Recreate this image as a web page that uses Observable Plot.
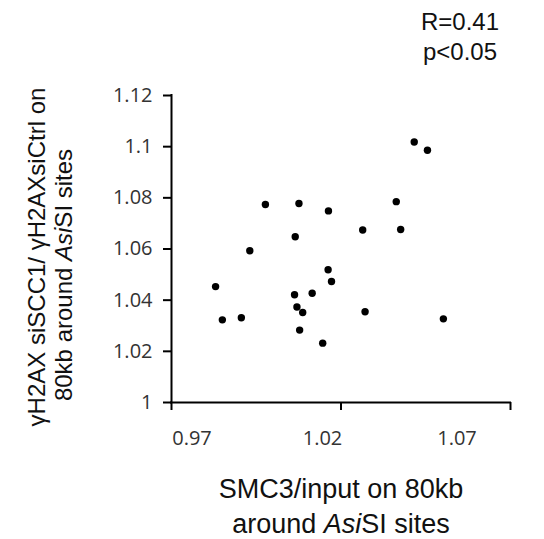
<!DOCTYPE html>
<html>
<head>
<meta charset="utf-8">
<script src="https://cdn.jsdelivr.net/npm/d3@7"></script>
<script src="https://cdn.jsdelivr.net/npm/@observablehq/plot@0.6"></script>
<style>
  html, body { margin: 0; padding: 0; background: #fff; }
  #chart svg { display: block; }
</style>
</head>
<body>
<div id="chart"></div>
<script>
// SMC3/input on 80kb around AsiSI sites (x)
const smc3 = [0.9830, 0.9850, 0.9906, 0.9931, 0.9977, 1.0065, 1.0063, 1.0070, 1.0076, 1.0078, 1.0087, 1.0115,
              1.0146, 1.0163, 1.0162, 1.0172, 1.0264, 1.0271, 1.0363, 1.0376, 1.0416, 1.0455, 1.0502];
// γH2AX siSCC1 / γH2AX siCtrl on 80kb around AsiSI sites (y)
const gh2ax = [1.0453, 1.0323, 1.0331, 1.0593, 1.0774, 1.0648, 1.0421, 1.0373, 1.0778, 1.0283, 1.0352, 1.0427,
               1.0232, 1.0749, 1.0519, 1.0473, 1.0674, 1.0355, 1.0785, 1.0676, 1.1018, 1.0986, 1.0327];

const xTicks = [0.97, 1.02, 1.07];
const xTickLabels = ["0.97", "1.02", "1.07"];
const yTicks = [1, 1.02, 1.04, 1.06, 1.08, 1.1, 1.12];
const yTickLabels = ["1", "1.02", "1.04", "1.06", "1.08", "1.1", "1.12"];
const statsLines = ["R=0.41", "p<0.05"];

const points = smc3.map((x, i) => ({x, y: gh2ax[i]}));

// label offsets (the reference's x labels are not centred on their ticks)
const labelDx = [20.5, -18.5, -53.5];

const tickFont = "'Open Sans', sans-serif";
const titleFont = "'Liberation Sans', Arial, sans-serif";

const chart = Plot.plot({
  width: 544,
  height: 539,
  marginLeft: 171,
  marginRight: 34,
  marginTop: 95,
  marginBottom: 137,
  style: {background: "#fff", fontFamily: tickFont, fontSize: "20px", color: "#333"},
  x: {domain: [0.97, 1.07]},
  y: {domain: [1, 1.12]},
  marks: [
    Plot.ruleY([1], {stroke: "#000", strokeWidth: 2, strokeLinecap: "square"}),
    Plot.ruleX([0.97], {stroke: "#000", strokeWidth: 2, strokeLinecap: "square"}),
    Plot.axisY({
      ticks: yTicks,
      tickFormat: d => yTickLabels[yTicks.indexOf(d)],
      tickSize: 8, tickPadding: 11,
      stroke: "#000", strokeWidth: 2,
      fill: "#333", fontSize: 20,
      label: null
    }),
    Plot.axisX({
      ticks: xTicks,
      tickFormat: () => "",
      tickSize: 8,
      stroke: "#000", strokeWidth: 2,
      label: null
    }),
    ...xTicks.map((v, i) => Plot.text([v], {
      x: d => d,
      text: () => xTickLabels[i],
      frameAnchor: "bottom",
      dy: 36, dx: labelDx[i],
      lineAnchor: "middle",
      fill: "#333", fontSize: 20, fontFamily: tickFont
    })),
    Plot.dot(points, {x: "x", y: "y", r: 3.7, fill: "#000", stroke: "none"})
  ]
});

document.getElementById("chart").appendChild(chart);

const svg = d3.select(chart);
const g = svg.append("g").attr("font-family", titleFont).attr("fill", "#111");

// statistics (top right)
statsLines.forEach((s, i) => {
  g.append("text").attr("x", 460).attr("y", 30 + i * 30)
    .attr("font-size", 24).text(s);
});

// x-axis title
g.append("text").attr("x", 341).attr("y", 498).attr("text-anchor", "middle")
  .attr("font-size", 27).text("SMC3/input on 80kb");
const xt2 = g.append("text").attr("x", 341).attr("y", 533).attr("text-anchor", "middle")
  .attr("font-size", 27);
xt2.append("tspan").text("around ");
xt2.append("tspan").attr("font-style", "italic").text("Asi");
xt2.append("tspan").text("SI sites");

// y-axis title (rotated)
g.append("text").attr("transform", "translate(45,257) rotate(-90)")
  .attr("text-anchor", "middle").attr("font-size", 24)
  .text("γH2AX siSCC1/ γH2AXsiCtrl on");
const yt2 = g.append("text").attr("transform", "translate(72,275) rotate(-90)")
  .attr("text-anchor", "middle").attr("font-size", 24);
yt2.append("tspan").text("80kb around ");
yt2.append("tspan").attr("font-style", "italic").text("Asi");
yt2.append("tspan").text("SI sites");
</script>
</body>
</html>
